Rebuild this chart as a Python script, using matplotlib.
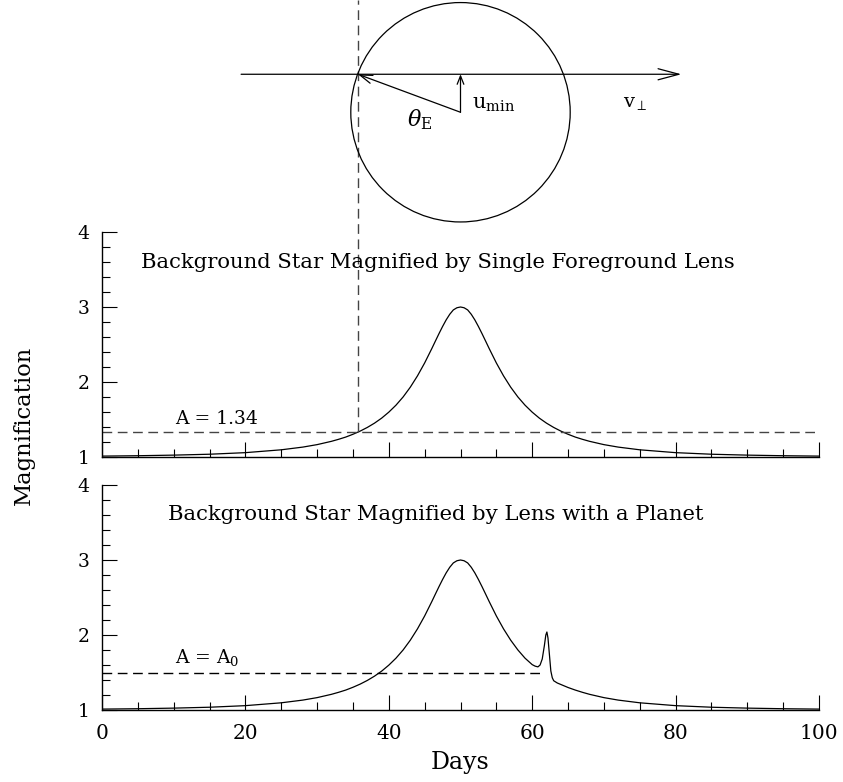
import matplotlib
matplotlib.use("Agg")
import matplotlib.pyplot as plt
from matplotlib.patches import Circle
from matplotlib.ticker import MultipleLocator

plt.rcParams["font.family"] = "DejaVu Serif"
plt.rcParams["mathtext.fontset"] = "dejavuserif"

# --- values ---
# single lens light curve (days, magnification)
days_single = [0, 5, 10, 15, 20, 25, 28, 30, 32, 33, 34, 35, 36, 37, 38, 39, 40,
               41, 42, 43, 44, 45, 46, 46.5, 47, 47.5, 48, 48.5, 49, 49.5, 50,
               50.5, 51, 51.5, 52, 52.5, 53, 53.5, 54, 55, 56, 57, 58, 59, 60,
               61, 62, 63, 64, 65, 66, 67, 68, 70, 72, 75, 80, 85, 90, 95, 100]
mag_single = [1.012, 1.017, 1.025, 1.037, 1.058, 1.096, 1.132, 1.165, 1.209, 1.236,
              1.266, 1.303, 1.345, 1.394, 1.451, 1.518, 1.598, 1.691, 1.801, 1.931,
              2.082, 2.254, 2.446, 2.546, 2.645, 2.740, 2.828, 2.903, 2.961, 2.990,
              3.000, 2.990, 2.961, 2.903, 2.828, 2.740, 2.645, 2.546, 2.446, 2.254,
              2.082, 1.931, 1.801, 1.691, 1.598, 1.518, 1.451, 1.394, 1.345, 1.303,
              1.266, 1.236, 1.209, 1.165, 1.132, 1.096, 1.058, 1.037, 1.025, 1.017,
              1.012]

# lens with planet light curve
days_planet = [0, 5, 10, 15, 20, 25, 28, 30, 32, 33, 34, 35, 36, 37, 38, 39, 40,
               41, 42, 43, 44, 45, 46, 46.5, 47, 47.5, 48, 48.5, 49, 49.5, 50,
               50.5, 51, 51.5, 52, 52.5, 53, 53.5, 54, 55, 56, 57, 58, 59, 60,
               60.4, 60.8, 61.1, 61.4, 61.7, 61.9, 62.05, 62.2, 62.4, 62.6, 62.8,
               63.0, 63.5, 64, 65, 66, 67, 68, 70, 72, 75, 80, 85, 90, 95, 100]
mag_planet = [1.012, 1.017, 1.025, 1.037, 1.058, 1.096, 1.132, 1.165, 1.209, 1.236,
              1.266, 1.303, 1.345, 1.394, 1.451, 1.518, 1.598, 1.691, 1.801, 1.931,
              2.082, 2.254, 2.446, 2.546, 2.645, 2.740, 2.828, 2.903, 2.961, 2.990,
              3.000, 2.990, 2.961, 2.903, 2.828, 2.740, 2.645, 2.546, 2.446, 2.254,
              2.082, 1.931, 1.801, 1.691, 1.605, 1.585, 1.575, 1.600, 1.680, 1.860,
              2.000, 2.040, 1.960, 1.740, 1.520, 1.430, 1.390, 1.360, 1.340, 1.300,
              1.266, 1.236, 1.209, 1.165, 1.132, 1.096, 1.058, 1.037, 1.025, 1.017,
              1.012]

a_single = 1.34        # threshold in the top panel
t_cross = 35.7         # day where the single lens curve hits A = 1.34
a_zero = 1.5           # A0 level in the bottom panel
t_a0_end = 61.5        # where the A0 line stops

# sketch geometry, in days (Einstein ring crossing)
t_peak = 50.0
ring_radius = 15.3
u_min_days = 5.3
track_start, track_end = 19.4, 80.8

title_top = "Background Star Magnified by Single Foreground Lens"
title_bot = "Background Star Magnified by Lens with a Planet"

# --- figure ---
W, H = 843, 782
fig = plt.figure(figsize=(W / 100, H / 100), dpi=100)
left, right = 102, 819
ax1 = fig.add_axes([left / W, 1 - 457 / H, (right - left) / W, 225 / H])
ax2 = fig.add_axes([left / W, 1 - 710 / H, (right - left) / W, 225 / H])

for ax in (ax1, ax2):
    ax.set_xlim(0, 100)
    ax.set_ylim(1, 4)
    ax.spines["top"].set_visible(False)
    ax.spines["right"].set_visible(False)
    ax.spines["left"].set_linewidth(1.0)
    ax.spines["bottom"].set_linewidth(1.0)
    ax.xaxis.set_major_locator(MultipleLocator(20))
    ax.xaxis.set_minor_locator(MultipleLocator(5))
    ax.yaxis.set_major_locator(MultipleLocator(1))
    ax.yaxis.set_minor_locator(MultipleLocator(0.2))
    ax.tick_params(which="both", direction="in", width=0.8, top=False, right=False)
    ax.tick_params(which="major", length=11)
    ax.tick_params(which="minor", length=5.5)
    ax.tick_params(axis="y", labelsize=13.5, pad=9)
    ax.tick_params(axis="x", labelsize=14.5, pad=10)

ax1.tick_params(axis="x", labelbottom=False)

# top panel
ax1.plot(days_single, mag_single, color="black", lw=0.9)
ax1.axhline(a_single, color="#444444", lw=1.0, ls=(0, (7, 4)))
ax1.text(10.2, 1.44, "A = 1.34", fontsize=13.5, ha="left", va="baseline")
ax1.text(46.9, 3.6, title_top, fontsize=15.2, ha="center", va="center")
# vertical dashed line running up into the sketch
y_top = 4 + 232 / 75.0
ax1.plot([t_cross, t_cross], [a_single, y_top], color="#444444", lw=1.0,
         ls=(0, (7, 4)), clip_on=False)

# bottom panel
ax2.plot(days_planet, mag_planet, color="black", lw=0.9)
ax2.plot([0, t_a0_end], [a_zero, a_zero], color="black", lw=1.0, ls=(0, (7, 4)))
ax2.text(10.2, 1.62, "A = A$_0$", fontsize=13.5, ha="left", va="baseline")
ax2.text(46.6, 3.6, title_bot, fontsize=15.2, ha="center", va="center")
ax2.set_xlabel("Days", fontsize=17, labelpad=6)

fig.text(24 / W, 1 - 425 / H, "Magnification", rotation=90, fontsize=16.3,
         ha="center", va="center")

# --- sketch of the lens geometry ---
px_per_day = (right - left) / 100.0
dax = fig.add_axes([left / W, 1 - 232 / H, (right - left) / W, 232 / H])
dax.set_xlim(0, 100)
dax.set_ylim(0, 232 / px_per_day)
dax.axis("off")
yc = 16.7
dax.add_patch(Circle((t_peak, yc), ring_radius, fill=False, lw=0.9, color="black"))
y_track = yc + u_min_days
dax.annotate("", xy=(track_end, y_track), xytext=(track_start, y_track),
             arrowprops=dict(arrowstyle="->,head_length=0.75,head_width=0.2",
                             mutation_scale=20, lw=0.9, color="black",
                             shrinkA=0, shrinkB=0))
dax.annotate("", xy=(t_cross, y_track), xytext=(t_peak, yc),
             arrowprops=dict(arrowstyle="->,head_length=0.6,head_width=0.2",
                             mutation_scale=15, lw=0.9, color="black",
                             shrinkA=0, shrinkB=0))
dax.annotate("", xy=(t_peak, y_track), xytext=(t_peak, yc),
             arrowprops=dict(arrowstyle="->,head_length=0.5,head_width=0.2",
                             mutation_scale=12, lw=0.9, color="black",
                             shrinkA=0, shrinkB=0))
dax.text(42.5, 15.6, r"$\theta_{\rm E}$", fontsize=16, ha="left", va="center")
dax.text(51.6, 17.8, r"u$_{\rm min}$", fontsize=15, ha="left", va="center")
dax.text(72.7, 18.0, r"v$_\perp$", fontsize=14, ha="left", va="center")

fig.savefig("out.png", dpi=100)
